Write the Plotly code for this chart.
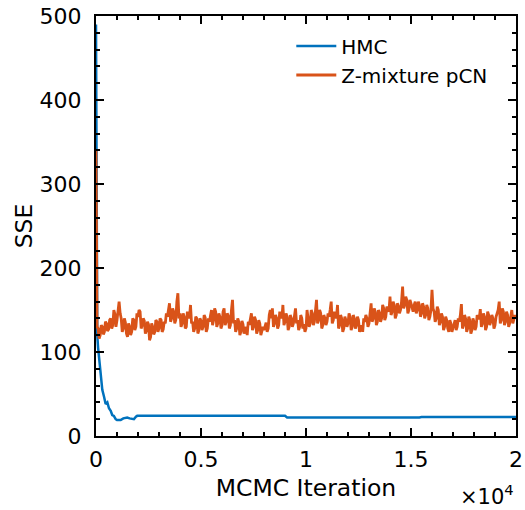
import plotly.graph_objects as go

# ---- data ----
hmc_iter = [0, 10, 20, 30, 45, 60, 100, 150, 223, 300, 380, 460, 540, 618, 700, 774, 850, 936,
            1000, 1173, 1300, 1487, 1600, 1805, 1900, 1962, 9000, 9100, 15400, 15500, 20000]
hmc_sse = [490, 400, 300, 220, 160, 120, 105, 90, 75, 55, 47, 38, 40, 33, 30, 25, 24, 20,
           19, 19, 21, 22, 21, 20, 23, 24, 24, 22, 22, 22.5, 22.5]

pcn_iter_start = [0, 20]
pcn_sse_start = [340, 200]
# values every 50 iterations from 50 to 20000
pcn_sse_body = [
    130, 128, 116, 120, 132, 130, 121, 124, 136, 134, 125, 127, 138, 140, 128, 132, 150, 145, 130, 138,
    148, 160, 146, 140, 124, 128, 140, 135, 122, 118, 134, 130, 120, 124, 140, 138, 126, 130, 146, 142,
    150, 148, 128, 132, 140, 137, 122, 125, 136, 133, 114, 118, 134, 130, 121, 124, 138, 136, 124, 128,
    140, 138, 124, 127, 136, 134, 146, 142, 150, 158, 136, 140, 152, 148, 134, 138, 160, 170, 140, 146,
    130, 134, 146, 142, 128, 130, 148, 145, 140, 156, 134, 136, 124, 128, 142, 140, 122, 126, 140, 137,
    126, 130, 144, 141, 124, 128, 140, 136, 144, 150, 132, 138, 152, 148, 130, 134, 146, 142, 128, 132,
    148, 152, 132, 136, 146, 143, 128, 132, 150, 162, 134, 138, 124, 128, 140, 136, 120, 124, 137, 133,
    122, 126, 130, 120, 136, 132, 140, 146, 126, 130, 142, 138, 122, 126, 138, 134, 120, 124, 130, 126,
    132, 135, 124, 128, 144, 150, 140, 152, 130, 134, 144, 140, 128, 132, 148, 144, 140, 156, 132, 136,
    146, 142, 126, 130, 144, 140, 130, 134, 146, 152, 134, 138, 126, 130, 144, 140, 128, 133, 124, 128,
    150, 142, 130, 134, 150, 146, 132, 136, 148, 162, 134, 138, 150, 146, 128, 132, 144, 140, 132, 136,
    146, 142, 150, 160, 134, 138, 148, 144, 140, 156, 128, 132, 144, 140, 124, 128, 142, 138, 130, 134,
    146, 142, 126, 130, 144, 140, 128, 132, 142, 138, 124, 128, 132, 124, 140, 136, 144, 140, 130, 134,
    146, 158, 136, 140, 152, 148, 132, 136, 150, 146, 136, 140, 156, 152, 138, 142, 154, 150, 148, 166,
    144, 148, 160, 156, 140, 144, 158, 154, 146, 150, 160, 178, 152, 156, 166, 162, 146, 150, 162, 158,
    152, 148, 156, 160, 146, 150, 160, 156, 142, 146, 158, 154, 140, 144, 156, 152, 138, 142, 150, 174,
    152, 148, 136, 140, 154, 150, 132, 136, 146, 142, 126, 130, 142, 138, 128, 124, 138, 134, 124, 128,
    134, 138, 126, 130, 140, 136, 144, 157, 128, 132, 144, 140, 124, 128, 142, 138, 122, 126, 140, 136,
    126, 130, 144, 140, 140, 151, 130, 134, 146, 142, 126, 130, 148, 144, 132, 136, 144, 140, 128, 132,
    142, 146, 150, 160, 134, 138, 152, 148, 132, 136, 148, 144, 130, 134, 146, 150, 134, 138, 144, 140,
]
pcn_iter = pcn_iter_start + list(range(50, 50 * (len(pcn_sse_body) + 1), 50))
pcn_sse = pcn_sse_start + pcn_sse_body

x_tickvals = [0, 5000, 10000, 15000, 20000]
x_ticktext = ["0", "0.5", "1", "1.5", "2"]
y_tickvals = [0, 100, 200, 300, 400, 500]

BLUE = "#0072BD"
ORANGE = "#D95319"
FONT = "DejaVu Sans"

fig = go.Figure()
fig.add_trace(go.Scatter(x=hmc_iter, y=hmc_sse, mode="lines", name="HMC",
                         line=dict(color=BLUE, width=2.5)))
fig.add_trace(go.Scatter(x=pcn_iter, y=pcn_sse, mode="lines", name="Z-mixture pCN",
                         line=dict(color=ORANGE, width=2.8)))

axis_common = dict(showline=True, linecolor="black", linewidth=2, mirror="ticks",
                   ticks="inside", ticklen=8, tickwidth=2, tickcolor="black",
                   showgrid=False, zeroline=False, automargin=False,
                   tickfont=dict(family=FONT, size=22, color="black"))

fig.update_xaxes(range=[0, 20000], tickvals=x_tickvals, ticktext=x_ticktext,
                 minor=dict(dtick=1000, ticks="inside", ticklen=4, tickwidth=2, tickcolor="black"),
                 title=dict(text="MCMC Iteration", font=dict(family=FONT, size=23.5, color="black"),
                            standoff=8),
                 ticklabelstandoff=3,
                 **axis_common)
fig.update_yaxes(range=[0, 500], tickvals=y_tickvals,
                 minor=dict(dtick=20, ticks="inside", ticklen=4, tickwidth=2, tickcolor="black"),
                 title=dict(text="SSE", font=dict(family=FONT, size=23.5, color="black"),
                            standoff=0),
                 ticklabelstandoff=8,
                 **axis_common)

fig.add_annotation(text="\u00d710<sup>4</sup>", xref="paper", yref="paper",
                   x=1.0, y=-0.14, xanchor="right", yanchor="middle", showarrow=False,
                   font=dict(family=FONT, size=21, color="black"))

fig.update_layout(
    width=525, height=510,
    margin=dict(l=96, r=9, t=16, b=74, autoexpand=False),
    paper_bgcolor="white", plot_bgcolor="white",
    font=dict(family=FONT, color="black"),
    legend=dict(x=0.465, y=0.975, xanchor="left", yanchor="top",
                bgcolor="rgba(0,0,0,0)", borderwidth=0,
                font=dict(family=FONT, size=20, color="black"),
                itemwidth=40, tracegroupgap=0),
)

fig.write_html("out.html", config={"displayModeBar": False},
               post_script="document.body.style.margin='0';document.body.style.overflow='hidden';")
